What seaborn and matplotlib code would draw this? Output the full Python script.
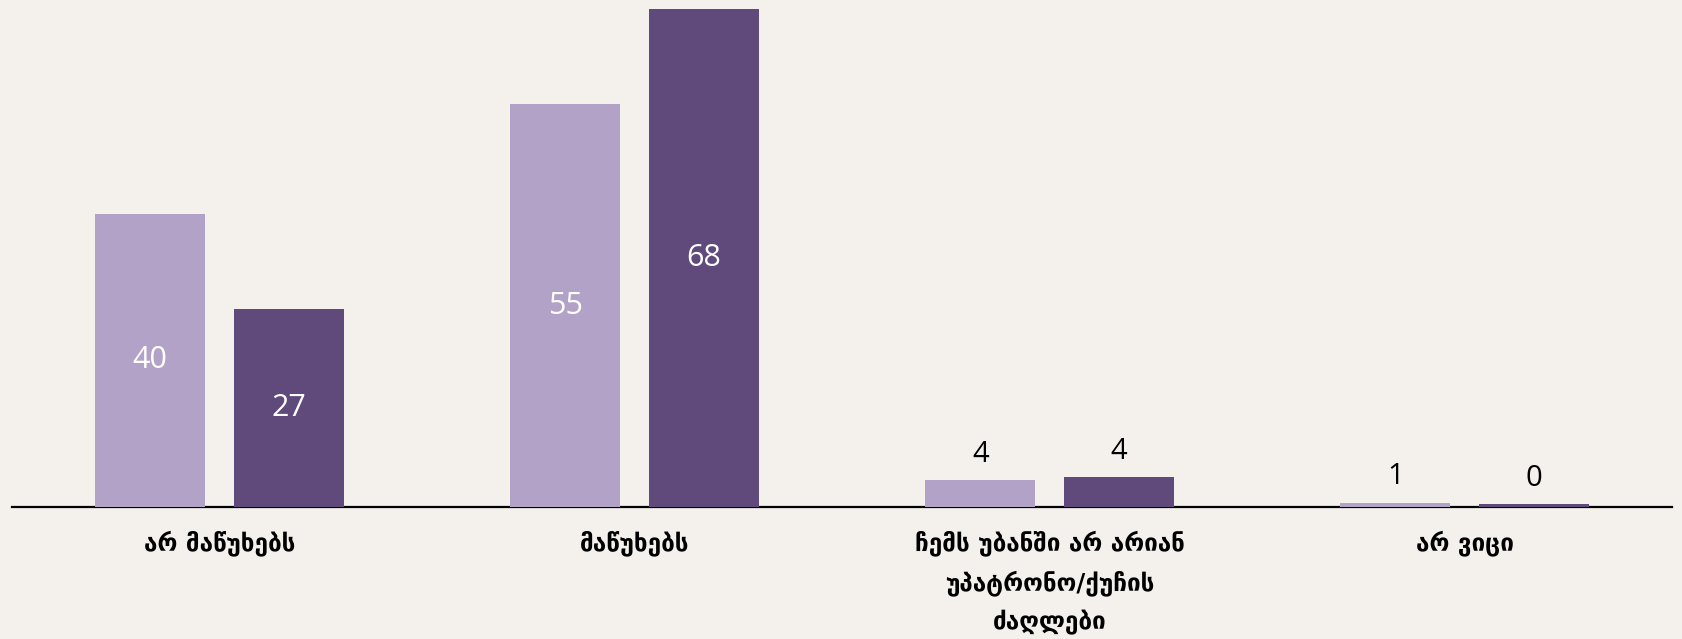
import pandas as pd
import matplotlib.pyplot as plt
import seaborn as sns

categories = [
    'არ მაწუხებს',
    'მაწუხებს',
    'ჩემს უბანში არ არიან\nუპატრონო/ქუჩის\nძაღლები',
    'არ ვიცი',
]
series_names = ['wave_1', 'wave_2']
wave_1 = [40, 55, 3.7, 0.6]
wave_2 = [27, 68, 4.1, 0.4]

light = '#B2A2C8'
dark = '#5F4A7B'
bg = '#F4F1EC'

df = pd.DataFrame({
    'category': categories * 2,
    'series': [series_names[0]] * 4 + [series_names[1]] * 4,
    'value': wave_1 + wave_2,
})

sns.set_theme(style='white')
plt.rcParams['font.family'] = ['Open Sans', 'DejaVu Sans']

fig = plt.figure(figsize=(16.83, 6.39), dpi=100, facecolor=bg)
ax = fig.add_axes([12 / 1683, 132 / 639, 1660 / 1683, 507 / 639])
ax.set_facecolor(bg)

sns.barplot(data=df, x='category', y='value', hue='series', order=categories,
            hue_order=series_names, palette=[light, dark], width=0.667, gap=0.205,
            legend=False, ax=ax, saturation=1, linewidth=0, edgecolor='none')

for cont, vals in zip(ax.containers, [wave_1, wave_2]):
    inside = [f'{v:.0f}' if v > 10 else '' for v in vals]
    outside = [f'{v:.0f}' if v <= 10 else '' for v in vals]
    ax.bar_label(cont, labels=inside, label_type='center', color='white', fontsize=22)
    ax.bar_label(cont, labels=outside, label_type='edge', padding=8, color='black', fontsize=21)

ax.set_xlim(-0.5, 3.5)
ax.set_ylim(0, 69.2)
ax.set_xlabel('')
ax.set_ylabel('')
ax.set_yticks([])
for side in ['top', 'left', 'right']:
    ax.spines[side].set_visible(False)
ax.spines['bottom'].set_color('black')
ax.spines['bottom'].set_linewidth(1.6)
ax.spines['bottom'].set_zorder(0.5)
ax.tick_params(axis='x', length=0, pad=17, colors='black')
for lbl in ax.get_xticklabels():
    lbl.set_fontfamily(['DejaVu Sans'])
    lbl.set_fontweight('bold')
    lbl.set_fontsize(17.5)
    lbl.set_linespacing(1.7)
    lbl.set_color('black')

fig.savefig('out.png', dpi=100, facecolor=bg)
